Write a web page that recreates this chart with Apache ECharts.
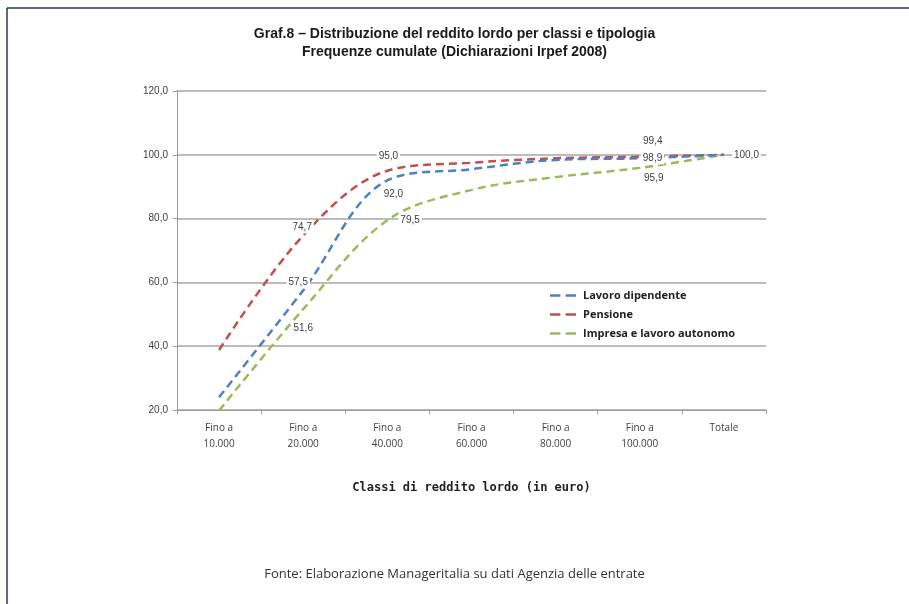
<!DOCTYPE html>
<html>
<head>
<meta charset="utf-8">
<script src="https://cdn.jsdelivr.net/npm/echarts@6/dist/echarts.min.js"></script>
<style>
html,body{margin:0;padding:0;background:#fff;}
#c{width:909px;height:604px;}
</style>
</head>
<body>
<div id="c"></div>
<script>
const categories = ['Fino a\n10.000','Fino a\n20.000','Fino a\n40.000','Fino a\n60.000','Fino a\n80.000','Fino a\n100.000','Totale'];
const seriesNames = ['Lavoro dipendente','Pensione','Impresa e lavoro autonomo'];
const lavoroDipendente = [24.0, 57.5, 92.0, 95.5, 98.4, 98.9, 100.0];
const pensione = [38.8, 74.7, 95.0, 97.5, 98.9, 99.4, 100.0];
const impresaAutonomo = [19.8, 51.6, 79.5, 89.0, 93.0, 95.9, 100.0];
const yTicks = [20, 40, 60, 80, 100, 120];
const titleLines = ['Graf.8 – Distribuzione del reddito lordo per classi e tipologia','Frequenze cumulate (Dichiarazioni Irpef 2008)'];
const xAxisName = 'Classi di reddito lordo (in euro)';
const sourceText = 'Fonte: Elaborazione Manageritalia su dati Agenzia delle entrate';

const colors = ['#4F81BD','#C0504D','#9BBB59'];
const fmt = v => v.toFixed(1).replace('.', ',');

// label placement per series: index -> [position, offset]
const labelPlacement = [
  {1:['top',[-5,2]], 2:['bottom',[6,4]], 5:['right',[-3,0]], 6:['right',[4,0]]},
  {1:['top',[-1,2]], 2:['top',[1,-4]], 5:['top',[13,-5]]},
  {1:['bottom',[0,9]], 2:['right',[7,0]], 5:['bottom',[14,0]]}
];

function buildData(values, sIdx){
  return values.map((v,i)=>{
    const p = labelPlacement[sIdx][i];
    if(!p) return {value:v, label:{show:false}};
    return {value:v, label:{show:true, position:p[0], offset:p[1], distance:4,
      formatter: fmt(v), color:'#404040', fontSize:10, fontFamily:'Liberation Sans',
      backgroundColor:'#ffffff', padding:[1,2]}};
  });
}

const allValues = [lavoroDipendente, pensione, impresaAutonomo];
const dashIcon = 'path://M0,5H10V7.5H0Z M15,5H25V7.5H15Z';

const chart = echarts.init(document.getElementById('c'), null, {renderer:'canvas'});
chart.setOption({
  animation:false,
  backgroundColor:'#ffffff',
  color: colors,
  title:{
    text: titleLines.join('\n'),
    left:'center', top:20,
    textStyle:{fontFamily:'Liberation Sans', fontWeight:'bold', fontSize:14, color:'#1a1a1a', lineHeight:18}
  },
  legend:{
    orient:'vertical', left:545, top:285,
    itemWidth:26, itemHeight:12, itemGap:8,
    data: seriesNames.map(n=>({name:n, icon:dashIcon})),
    textStyle:{fontFamily:'Open Sans', fontWeight:'bold', fontSize:11, color:'#222', padding:[0,0,0,2]}
  },
  grid:{left:177, right:143, top:91, bottom:194, containLabel:false},
  xAxis:{
    type:'category', data: categories, boundaryGap:true,
    axisLine:{lineStyle:{color:'#9a9a9a', width:1}},
    axisTick:{show:true, length:4, lineStyle:{color:'#9a9a9a'}},
    axisLabel:{color:'#404040', fontSize:10, fontFamily:'Open Sans', lineHeight:16, margin:10},
    name: xAxisName, nameLocation:'middle', nameGap:72,
    nameTextStyle:{fontFamily:'DejaVu Sans Mono', fontWeight:'bold', fontSize:12, color:'#222'}
  },
  yAxis:{
    type:'value', min:yTicks[0], max:yTicks[yTicks.length-1], interval:20,
    axisLine:{show:true, lineStyle:{color:'#9a9a9a'}},
    axisTick:{show:true, length:4, lineStyle:{color:'#9a9a9a'}},
    axisLabel:{formatter: v=>fmt(v), color:'#404040', fontSize:10, fontFamily:'Liberation Sans', margin:9},
    splitLine:{show:true, lineStyle:{color:'#a6a6a6', width:1.5}}
  },
  series: allValues.map((vals, i)=>({
    name: seriesNames[i], type:'line', data: buildData(vals, i),
    symbol:'circle', symbolSize:0.01, showSymbol:true,
    smooth:0.35,
    lineStyle:{color:colors[i], width:2.5, type:[8,5]},
    itemStyle:{color:colors[i], borderWidth:0},
    z: 3 + (i===0?1:0)
  })),
  graphic:[
    {type:'line', shape:{x1:7, y1:8, x2:909, y2:8}, style:{stroke:'#1f3864', lineWidth:1.5}, silent:true},
    {type:'line', shape:{x1:7, y1:8, x2:7, y2:604}, style:{stroke:'#1f3864', lineWidth:1.5}, silent:true},
    {type:'text', left:'center', top:568, style:{text: sourceText, font:'13px "Open Sans"', fill:'#333'}}
  ]
});
</script>
</body>
</html>
